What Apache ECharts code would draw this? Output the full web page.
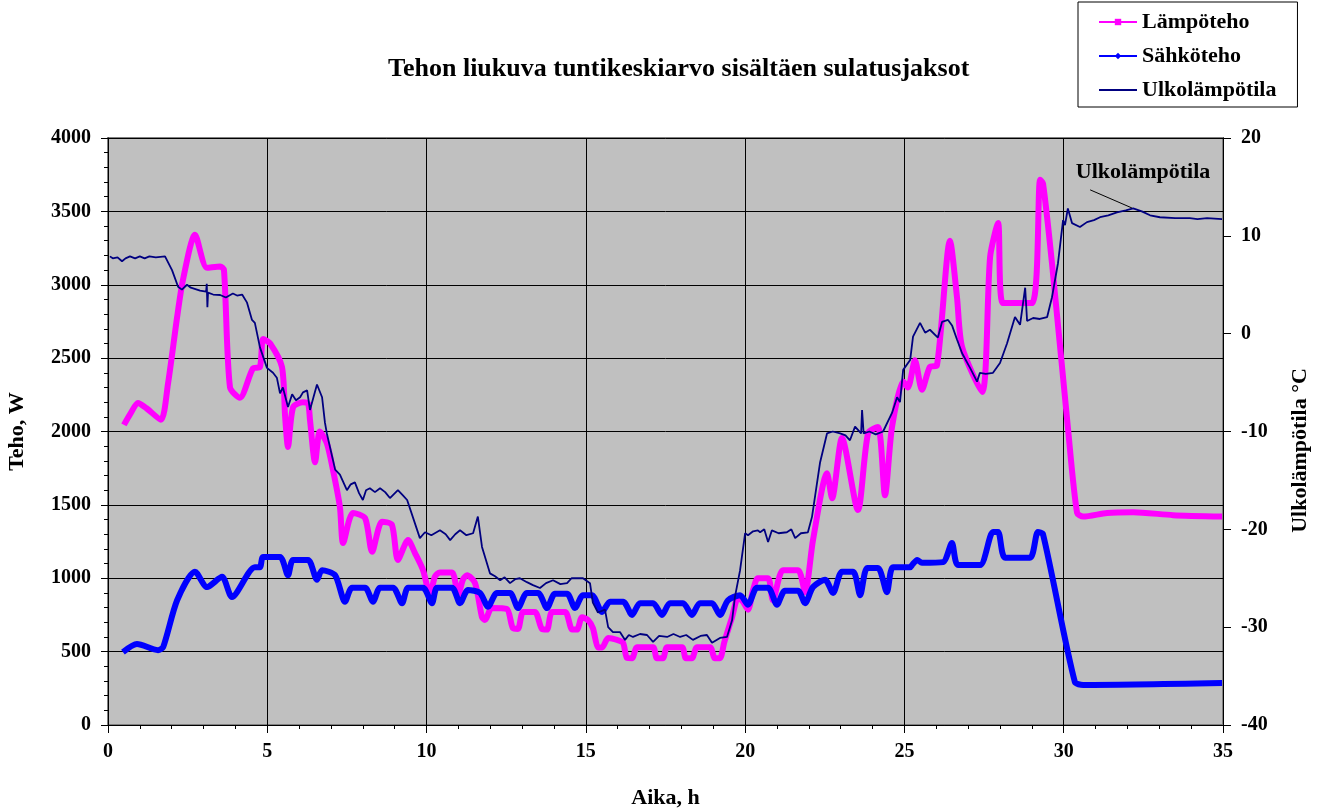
<!DOCTYPE html>
<html>
<head>
<meta charset="utf-8">
<script src="https://cdn.jsdelivr.net/npm/echarts@6/dist/echarts.min.js"></script>
<style>
html,body{margin:0;padding:0;background:#fff;}
#chart{width:1324px;height:810px;}
</style>
</head>
<body>
<div id="chart"></div>
<script>
// aika (h), teho (W)
var lampoteho = [
  [0.5,2045],[0.7,2120],[0.94,2195],[1.2,2160],[1.66,2080],[1.88,2320],[2.17,2780],[2.35,3030],
  [2.73,3340],[3.11,3115],[3.52,3125],[3.64,3100],[3.83,2300],[4.14,2230],[4.55,2430],[4.77,2440],
  [4.87,2630],[5.09,2600],[5.46,2440],[5.56,2100],[5.65,1895],[5.81,2165],[6.12,2200],[6.28,2190],
  [6.34,2080],[6.50,1790],[6.65,2000],[6.87,1920],[7.06,1740],[7.28,1485],[7.38,1240],[7.69,1445],
  [8.07,1410],[8.29,1180],[8.60,1385],[8.91,1365],[9.10,1125],[9.42,1260],[9.64,1170],[9.89,1055],
  [10.11,885],[10.26,1010],[10.42,1040],[10.80,1040],[10.99,885],[11.14,990],[11.27,1020],[11.52,968],
  [11.74,735],[11.83,715],[12.05,797],[12.52,790],[12.71,660],[12.87,655],[13.03,770],[13.40,770],
  [13.62,655],[13.78,650],[13.94,770],[14.35,770],[14.57,650],[14.72,650],[14.88,735],[15.07,715],
  [15.22,660],[15.38,530],[15.51,528],[15.70,593],[15.98,580],[16.17,560],[16.29,457],[16.45,455],
  [16.61,530],[17.11,530],[17.23,455],[17.42,455],[17.55,530],[18.02,530],[18.14,455],[18.33,455],
  [18.49,530],[18.90,530],[19.05,455],[19.21,455],[19.34,560],[19.59,735],[19.78,870],[19.93,840],
  [20.09,785],[20.25,920],[20.40,1000],[20.72,1000],[20.87,850],[21.19,1055],[21.66,1055],[21.88,905],
  [22.13,1260],[22.57,1715],[22.73,1545],[23.04,1955],[23.54,1465],[23.86,1990],[24.17,2030],[24.39,1565],
  [24.61,2030],[24.96,2340],[25.11,2300],[25.33,2485],[25.55,2285],[25.80,2440],[26.02,2450],[26.43,3300],
  [26.65,2915],[26.81,2575],[27.44,2270],[27.69,3190],[27.94,3420],[28.09,2875],[29.0,2875],[29.26,3715],
  [29.35,3690],[29.63,3150],[30.13,2030],[30.42,1445],[30.61,1420],[31.36,1445],[32.18,1450],[33.43,1430],
  [34.97,1420]
];
var sahkoteho = [
  [0.47,497],[0.91,552],[1.57,510],[1.73,530],[2.17,850],[2.73,1045],[3.11,940],[3.58,1010],
  [3.89,872],[4.61,1075],[4.77,1075],[4.87,1145],[5.40,1145],[5.65,1020],[5.81,1125],[6.28,1125],
  [6.56,990],[6.72,1055],[7.13,1020],[7.44,840],[7.66,935],[8.07,935],[8.32,840],[8.54,935],
  [8.95,935],[9.23,830],[9.42,935],[9.89,935],[10.17,830],[10.33,935],[10.80,935],[11.05,830],
  [11.30,920],[11.68,900],[11.93,805],[12.21,900],[12.62,900],[12.87,797],[13.15,900],[13.50,900],
  [13.78,797],[14.03,894],[14.41,894],[14.66,797],[14.91,885],[15.19,885],[15.51,770],[15.76,840],
  [16.17,840],[16.45,750],[16.70,830],[17.11,830],[17.39,750],[17.64,830],[18.05,830],[18.33,750],
  [18.58,830],[18.96,830],[19.21,750],[19.46,850],[19.84,885],[20.09,820],[20.37,935],[20.72,935],
  [21.0,820],[21.25,915],[21.66,915],[21.88,830],[22.13,940],[22.51,990],[22.76,900],[23.04,1045],
  [23.39,1045],[23.61,885],[23.83,1070],[24.17,1070],[24.45,905],[24.64,1075],[25.18,1075],[25.24,1090],
  [25.40,1125],[25.55,1105],[26.21,1110],[26.49,1240],[26.68,1090],[27.37,1090],[27.78,1315],[27.94,1315],
  [28.16,1140],[28.94,1140],[29.19,1315],[29.35,1300],[30.35,293],[30.61,273],[34.97,286]
];
// aika (h), ulkolämpötila (°C)
var ulkolampotila = [
  [0.06,7.9],[0.15,7.7],[0.3,7.8],[0.44,7.4],[0.55,7.7],[0.69,7.9],[0.85,7.7],[1.0,7.9],[1.15,7.7],[1.3,7.9],
  [1.5,7.8],[1.79,7.9],[2.01,6.5],[2.2,4.8],[2.32,4.5],[2.48,5.0],[2.6,4.7],[2.89,4.4],[3.08,4.3],[3.10,5.1],
  [3.12,2.7],[3.14,4.2],[3.3,4.0],[3.52,3.95],[3.70,3.7],[3.92,4.1],[4.05,3.9],[4.21,4.0],[4.36,3.2],[4.52,1.4],
  [4.61,1.1],[4.77,-1.4],[4.99,-3.5],[5.18,-4.0],[5.30,-4.5],[5.40,-6.1],[5.49,-5.5],[5.65,-7.5],[5.78,-6.2],
  [5.90,-6.8],[6.03,-6.5],[6.12,-6.0],[6.25,-5.8],[6.34,-7.8],[6.45,-6.5],[6.56,-5.2],[6.72,-6.5],[6.81,-9.1],
  [6.87,-10.2],[7.13,-13.9],[7.28,-14.4],[7.50,-16.0],[7.62,-15.4],[7.75,-15.2],[7.88,-16.3],[8.0,-17.0],
  [8.1,-16.0],[8.22,-15.8],[8.38,-16.2],[8.54,-15.8],[8.70,-16.2],[8.85,-16.8],[9.10,-16.0],[9.25,-16.5],
  [9.39,-17.0],[9.79,-20.9],[9.95,-20.3],[10.15,-20.6],[10.42,-20.1],[10.6,-20.5],[10.74,-21.1],[10.9,-20.5],
  [11.05,-20.1],[11.25,-20.6],[11.46,-20.4],[11.61,-18.7],[11.74,-21.8],[11.99,-24.5],[12.15,-24.8],[12.31,-25.2],
  [12.45,-24.9],[12.62,-25.5],[12.78,-25.1],[12.93,-25.0],[13.15,-25.4],[13.34,-25.7],[13.56,-26.0],[13.75,-25.5],
  [13.97,-25.2],[14.2,-25.6],[14.41,-25.5],[14.55,-25.0],[14.72,-25.0],[14.91,-25.0],[15.13,-25.5],[15.22,-27.5],
  [15.38,-28.5],[15.60,-28.2],[15.70,-30.0],[15.85,-30.5],[16.07,-30.5],[16.23,-31.3],[16.35,-30.8],[16.48,-31.0],
  [16.7,-30.7],[16.92,-30.8],[17.11,-31.5],[17.3,-30.9],[17.55,-31.0],[17.75,-30.7],[17.96,-31.0],[18.15,-30.8],
  [18.36,-31.3],[18.6,-30.9],[18.80,-30.8],[18.96,-31.6],[19.21,-31.1],[19.43,-31.0],[19.59,-29.3],[19.68,-26.9],
  [19.84,-24.2],[20.0,-20.4],[20.09,-20.6],[20.25,-20.2],[20.40,-20.1],[20.47,-20.3],[20.6,-20.0],[20.72,-21.3],
  [20.84,-20.1],[21.05,-20.4],[21.31,-20.3],[21.45,-20.0],[21.57,-20.9],[21.75,-20.4],[21.97,-20.3],[22.10,-18.7],
  [22.35,-13.2],[22.57,-10.2],[22.75,-10.0],[22.98,-10.2],[23.15,-10.4],[23.29,-10.9],[23.45,-9.5],[23.64,-10.2],
  [23.67,-7.8],[23.72,-10.2],[23.9,-10.0],[24.1,-10.3],[24.33,-10.0],[24.61,-8.1],[24.77,-6.5],[24.86,-7.0],
  [24.96,-3.7],[25.18,-2.7],[25.27,-0.3],[25.49,1.1],[25.65,0.1],[25.80,0.4],[26.05,-0.4],[26.18,1.2],
  [26.37,1.4],[26.5,0.8],[26.65,-0.6],[26.81,-2.0],[27.06,-3.5],[27.28,-4.9],[27.37,-4.0],[27.55,-4.1],
  [27.78,-4.0],[28.0,-3.0],[28.22,-1.0],[28.47,1.7],[28.63,0.9],[28.79,4.7],[28.85,1.3],[29.04,1.6],
  [29.25,1.5],[29.48,1.7],[29.63,3.7],[29.82,7.2],[29.98,11.6],[30.04,11.1],[30.13,12.8],[30.26,11.3],
  [30.51,10.9],[30.73,11.4],[30.95,11.6],[31.14,11.9],[31.4,12.1],[31.67,12.4],[31.95,12.6],[32.18,12.8],
  [32.45,12.5],[32.71,12.1],[33.02,11.9],[33.5,11.8],[33.96,11.8],[34.2,11.7],[34.50,11.8],[34.97,11.7]
];

var font = '"Liberation Serif", "Times New Roman", serif';

var mychart = echarts.init(document.getElementById('chart'));
var options = {
  animation: false,
  backgroundColor: '#fff',
  title: {
    text: 'Tehon liukuva tuntikeskiarvo sisältäen sulatusjaksot',
    left: 383,
    top: 51,
    textStyle: { fontFamily: font, fontWeight: 'bold', fontSize: 26, color: '#000' }
  },
  legend: {
    orient: 'vertical',
    left: 1078,
    top: 2,
    padding: [8, 21, 5, 20],
    itemGap: 10,
    itemWidth: 38,
    itemHeight: 8,
    backgroundColor: '#fff',
    borderColor: '#000',
    borderWidth: 1,
    borderRadius: 0,
    lineStyle: { width: 2 },
    textStyle: { fontFamily: font, fontWeight: 'bold', fontSize: 22, color: '#000', lineHeight: 24 },
    data: ['Lämpöteho', 'Sähköteho', { name: 'Ulkolämpötila', itemStyle: { opacity: 0 } }]
  },
  grid: {
    left: 108, right: 101, top: 138, bottom: 85,
    outerBoundsMode: 'none',
    containLabel: false,
    show: true,
    backgroundColor: '#C0C0C0',
    borderColor: '#808080',
    borderWidth: 2
  },
  xAxis: {
    type: 'value',
    min: 0, max: 35, interval: 5,
    name: 'Aika, h',
    nameLocation: 'middle',
    nameGap: 62,
    nameTextStyle: { fontFamily: font, fontWeight: 'bold', fontSize: 22, color: '#000' },
    axisLine: { lineStyle: { color: '#000', width: 1 } },
    axisTick: { length: 8, lineStyle: { color: '#000' } },
    minorTick: { show: true, splitNumber: 5, length: 4, lineStyle: { color: '#000' } },
    splitLine: { show: true, lineStyle: { color: '#000', width: 1 } },
    axisLabel: { margin: 17, fontFamily: font, fontWeight: 'bold', fontSize: 20, color: '#000' }
  },
  yAxis: [{
    type: 'value',
    min: 0, max: 4000, interval: 500,
    name: 'Teho, W',
    nameLocation: 'middle',
    nameGap: 80,
    nameRotate: 90,
    nameTextStyle: { fontFamily: font, fontWeight: 'bold', fontSize: 22, color: '#000' },
    axisLine: { show: true, lineStyle: { color: '#000', width: 1 } },
    axisTick: { show: true, length: 7, lineStyle: { color: '#000' } },
    minorTick: { show: true, splitNumber: 5, length: 4, lineStyle: { color: '#000' } },
    splitLine: { show: true, lineStyle: { color: '#000', width: 1 } },
    axisLabel: { margin: 17, fontFamily: font, fontWeight: 'bold', fontSize: 20, color: '#000',
      formatter: function (v) { return String(v); } }
  }, {
    type: 'value',
    position: 'right',
    min: -40, max: 20, interval: 10,
    name: 'Ulkolämpötila °C',
    nameLocation: 'middle',
    nameGap: 66,
    nameRotate: 90,
    nameTextStyle: { fontFamily: font, fontWeight: 'bold', fontSize: 22, color: '#000', padding: [0, 38, 0, 0] },
    axisLine: { show: true, lineStyle: { color: '#000', width: 1 } },
    axisTick: { show: true, length: 8, lineStyle: { color: '#000' } },
    splitLine: { show: false },
    axisLabel: { margin: 18, fontFamily: font, fontWeight: 'bold', fontSize: 20, color: '#000' }
  }],
  series: [
    {
      name: 'Lämpöteho',
      type: 'line',
      data: lampoteho,
      symbol: 'rect',
      symbolSize: 6,
      showSymbol: false,
      smooth: 0.25,
      itemStyle: { color: '#FF00FF' },
      lineStyle: { color: '#FF00FF', width: 6 },
      silent: true
    },
    {
      name: 'Sähköteho',
      type: 'line',
      data: sahkoteho,
      symbol: 'diamond',
      symbolSize: 6,
      showSymbol: false,
      smooth: 0.25,
      itemStyle: { color: '#0000FF' },
      lineStyle: { color: '#0000FF', width: 6 },
      silent: true
    },
    {
      name: 'Ulkolämpötila',
      type: 'line',
      yAxisIndex: 1,
      data: ulkolampotila,
      symbol: 'none',
      itemStyle: { color: '#000080' },
      lineStyle: { color: '#000080', width: 1.8 },
      silent: true,
      markLine: {
        silent: true,
        symbol: 'none',
        label: { show: false },
        lineStyle: { color: '#000', width: 1, type: 'solid' },
        data: [[{ coord: [30.83, 14.7] }, { coord: [32.14, 12.85] }]]
      },
      markPoint: {
        silent: true,
        symbol: 'circle',
        symbolSize: 1,
        itemStyle: { color: 'rgba(0,0,0,0)' },
        label: {
          show: true,
          position: 'inside',
          formatter: 'Ulkolämpötila',
          fontFamily: font, fontWeight: 'bold', fontSize: 22, color: '#000'
        },
        data: [{ coord: [32.49, 16.5] }]
      }
    }
  ]
};
mychart.setOption(options, true);
window.addEventListener('resize', () => mychart.resize());
</script>
</body>
</html>
